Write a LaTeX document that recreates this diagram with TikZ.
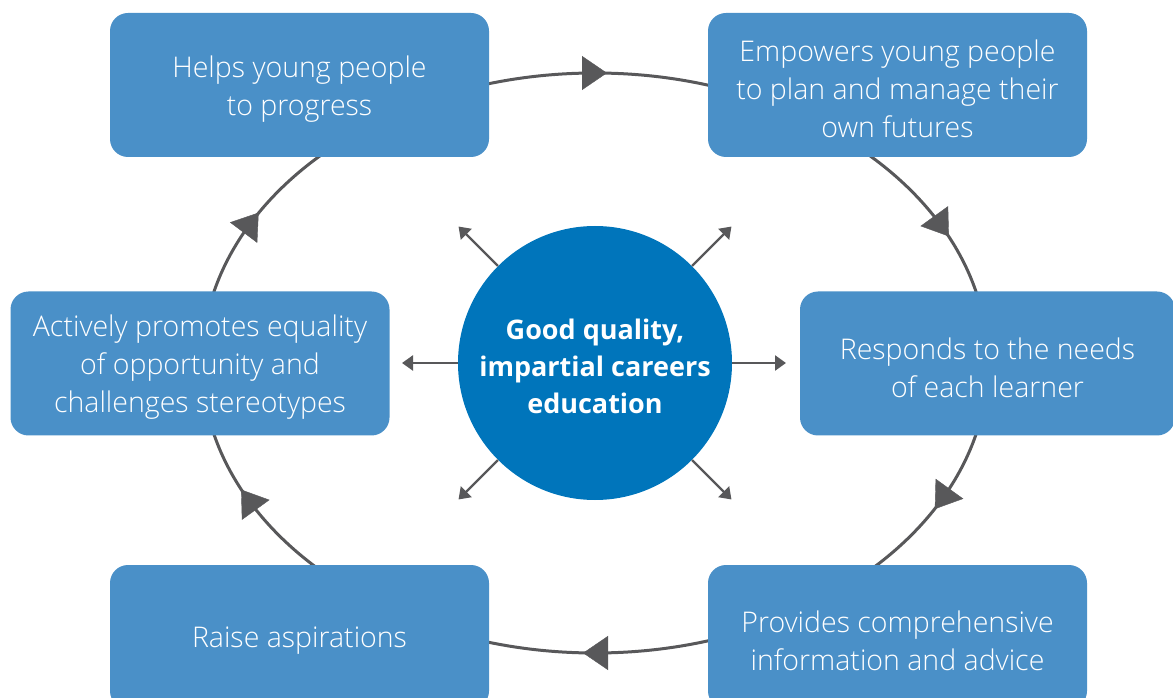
\documentclass[tikz,border=0pt]{standalone}
\usepackage{fontspec}
\setmainfont{Open Sans}[UprightFont={* Light},BoldFont={* Bold}]
\usetikzlibrary{arrows.meta,decorations.markings,calc}
\definecolor{boxblue}{RGB}{74,144,200}
\definecolor{coreblue}{RGB}{0,117,187}
\definecolor{linegrey}{RGB}{88,88,90}
\tikzset{
  stagebox/.style={fill=boxblue,draw=none,rounded corners=18pt,minimum width=379pt,minimum height=144pt,inner sep=0pt},
  boxtext/.style={inner sep=0pt,text=white,align=center,font=\fontsize{28.5pt}{38pt}\selectfont},
  corenode/.style={circle,fill=coreblue,draw=none,minimum size=274pt,inner sep=0pt},
  coretext/.style={inner sep=0pt,text=white,align=center,font=\bfseries\fontsize{27pt}{37pt}\selectfont},
  cycline/.style={draw=linegrey,line width=3pt},
  cyctip/.style={decorate,decoration={markings,mark=at position 0.5 with {\arrow[xshift=12pt,linegrey]{Triangle[length=25pt,width=34pt]}}}},
  spoke/.style={draw=linegrey,line width=2.4pt,-{Triangle[length=11pt,width=15pt]}},
}
\begin{document}
\begin{tikzpicture}[x=1pt,y=1pt]
\useasboundingbox (0,0) rectangle (1173,697);
\clip (0,0) rectangle (1173,697);
\coordinate (C) at (595,334);
% cycle ellipse
\draw[cycline] (C) ellipse [x radius=393pt, y radius=290pt];
\foreach \t in {90,28,-28,-90,208,151}{
  \path[cyctip] ($(C)+(\t+4:393pt and 290pt)$) arc[start angle=\t+4, end angle=\t-4, x radius=393pt, y radius=290pt];
}
% boxes
\node[stagebox] (tl) at (299.5,612) {};
\node[stagebox] (tr) at (897.5,612) {};
\node[stagebox] (l) at (200,333.5) {};
\node[stagebox,minimum width=375pt] (r) at (987.5,333.5) {};
\node[stagebox] (bl) at (299.5,60) {};
\node[stagebox] (br) at (897.5,60) {};
\node[boxtext] (tlt) at ([yshift=-4pt]tl.center) {Helps young people\\to progress};
\node[boxtext] (trt) at ([yshift=-4pt]tr.center) {Empowers young people\\to plan and manage their\\own futures};
\node[boxtext] (lt) at ([yshift=-4pt]l.center) {Actively promotes equality\\of opportunity and\\challenges stereotypes};
\node[boxtext] (rt) at ([yshift=-4pt]r.center) {Responds to the needs\\of each learner};
\node[boxtext] (blt) at ([yshift=-4pt]bl.center) {Raise aspirations};
\node[boxtext] (brt) at ([yshift=-4pt]br.center) {Provides comprehensive\\information and advice};
% core
\node[corenode] (core) at (C) {};
\node[coretext] (coret) at ([yshift=-3pt]core.center) {Good quality,\\impartial careers\\education};
\foreach \a/\r in {0/191,45/193,135/193,180/193,225/193,315/193}{
  \coordinate (s\a) at ($(C)+(\a:\r pt)$);
  \draw[spoke] (core.\a) -- (s\a);
}
\end{tikzpicture}
\end{document}
